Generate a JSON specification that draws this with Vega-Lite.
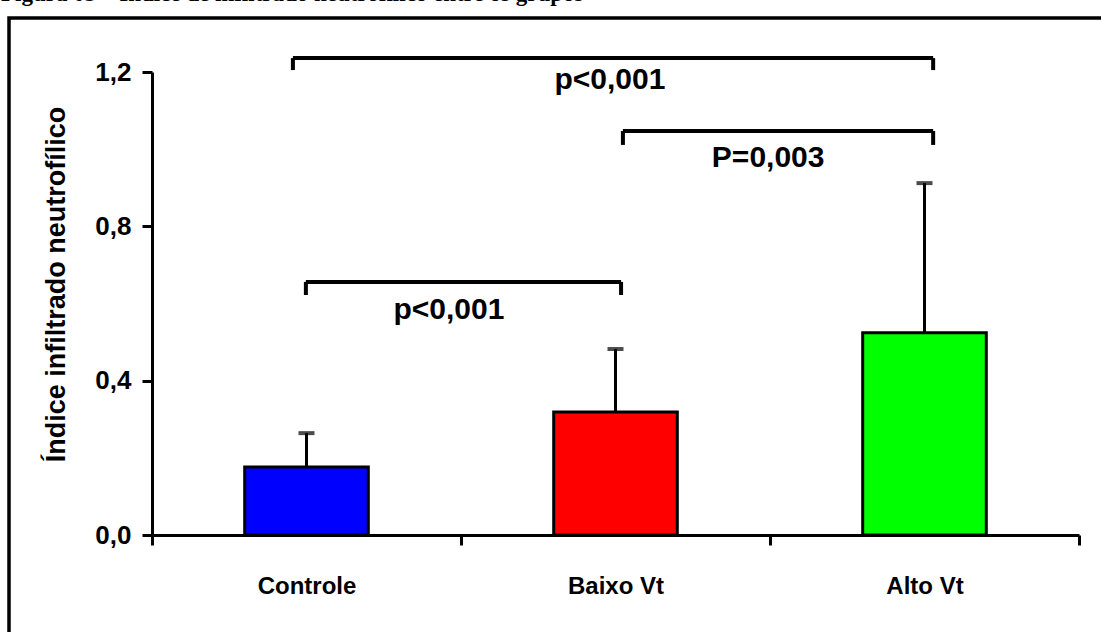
{
  "$schema": "https://vega.github.io/schema/vega-lite/v6.json",
  "autosize": {"type": "none"},
  "padding": {"left": 9, "top": 18, "right": 0, "bottom": 0},
  "width": 1100,
  "height": 620,
  "background": "white",
  "title": {
    "text": "Figura 03 – Índice de infiltrado neutrofílico entre os grupos",
    "anchor": "start",
    "font": "Liberation Serif",
    "fontWeight": "bold",
    "fontSize": 23,
    "color": "black",
    "baseline": "alphabetic",
    "offset": -6,
    "dx": -8
  },
  "datasets": {
    "bars": [
      {"grupo": "Controle", "media": 0.176, "superior": 0.264},
      {"grupo": "Baixo Vt", "media": 0.319, "superior": 0.482},
      {"grupo": "Alto Vt", "media": 0.524, "superior": 0.912}
    ],
    "chaves": [
      {"x1": 0.456, "x2": 2.528, "y": 1.236, "yb": 1.205},
      {"x1": 1.524, "x2": 2.528, "y": 1.047, "yb": 1.011},
      {"x1": 0.498, "x2": 1.518, "y": 0.656, "yb": 0.622}
    ],
    "rotulos": [
      {"pos": 1.482, "y": 1.179, "texto": "p<0,001"},
      {"pos": 1.994, "y": 0.977, "texto": "P=0,003"},
      {"pos": 0.961, "y": 0.583, "texto": "p<0,001"}
    ]
  },
  "encoding": {
    "y": {
      "type": "quantitative",
      "scale": {"domain": [0, 1.2], "range": [517, 54], "nice": false, "zero": true},
      "axis": {
        "title": "Índice infiltrado neutrofílico",
        "values": [0, 0.4, 0.8, 1.2],
        "labelExpr": "replace(format(datum.value, '.1f'), '.', ',')",
        "offset": -143,
        "grid": false,
        "domainColor": "black",
        "domainWidth": 3,
        "tickColor": "black",
        "tickWidth": 3,
        "tickSize": 10,
        "labelPadding": 11,
        "labelFont": "Liberation Sans",
        "labelFontWeight": "bold",
        "labelFontSize": 26,
        "labelColor": "black",
        "titleFont": "Liberation Sans",
        "titleFontWeight": "bold",
        "titleFontSize": 27,
        "titleColor": "black",
        "titlePadding": 24,
        "titleY": 266
      }
    }
  },
  "layer": [
    {
      "data": {"name": "bars"},
      "encoding": {
        "x": {
          "field": "grupo",
          "type": "nominal",
          "sort": ["Controle", "Baixo Vt", "Alto Vt"],
          "scale": {"range": [143, 1070], "paddingInner": 0, "paddingOuter": 0},
          "axis": {
            "title": null,
            "orient": "bottom",
            "offset": -103,
            "labelAngle": 0,
            "tickBand": "extent",
            "domainColor": "black",
            "domainWidth": 3,
            "tickColor": "black",
            "tickWidth": 3,
            "tickSize": 10,
            "labelPadding": 29,
            "labelFont": "Liberation Sans",
            "labelFontWeight": "bold",
            "labelFontSize": 24,
            "labelColor": "black"
          }
        }
      },
      "layer": [
        {
          "mark": {"type": "bar", "stroke": "black", "strokeWidth": 3, "width": {"band": 0.4}},
          "encoding": {
            "y": {"field": "media"},
            "color": {
              "field": "grupo",
              "type": "nominal",
              "scale": {"domain": ["Controle", "Baixo Vt", "Alto Vt"], "range": ["#0000ff", "#ff0000", "#00ff00"]},
              "legend": null
            }
          }
        },
        {
          "mark": {"type": "rule", "color": "black", "strokeWidth": 3},
          "encoding": {
            "y": {"field": "media"},
            "y2": {"field": "superior"}
          }
        },
        {
          "mark": {"type": "tick", "color": "black", "size": 16, "thickness": 4, "orient": "horizontal"},
          "encoding": {
            "y": {"field": "superior"}
          }
        }
      ]
    },
    {
      "encoding": {
        "x": {"type": "quantitative", "scale": {"domain": [0, 3], "range": [143, 1070], "nice": false, "zero": false}, "axis": null}
      },
      "layer": [
        {
          "data": {"name": "chaves"},
          "mark": {"type": "rule", "color": "black", "strokeWidth": 4},
          "encoding": {
            "x": {"field": "x1", "type": "quantitative"},
            "x2": {"field": "x2"},
            "y": {"field": "y"}
          }
        },
        {
          "data": {"name": "chaves"},
          "mark": {"type": "rule", "color": "black", "strokeWidth": 4},
          "encoding": {
            "x": {"field": "x1", "type": "quantitative"},
            "y": {"field": "y"},
            "y2": {"field": "yb"}
          }
        },
        {
          "data": {"name": "chaves"},
          "mark": {"type": "rule", "color": "black", "strokeWidth": 4},
          "encoding": {
            "x": {"field": "x2", "type": "quantitative"},
            "y": {"field": "y"},
            "y2": {"field": "yb"}
          }
        },
        {
          "data": {"name": "rotulos"},
          "mark": {"type": "text", "font": "Liberation Sans", "fontWeight": "bold", "fontSize": 30, "color": "black", "align": "center", "baseline": "middle"},
          "encoding": {
            "x": {"field": "pos", "type": "quantitative"},
            "y": {"field": "y"},
            "text": {"field": "texto"}
          }
        }
      ]
    }
  ],
  "resolve": {"scale": {"x": "independent"}, "axis": {"x": "independent"}},
  "config": {
    "view": {"stroke": "black", "strokeWidth": 3.5}
  }
}
